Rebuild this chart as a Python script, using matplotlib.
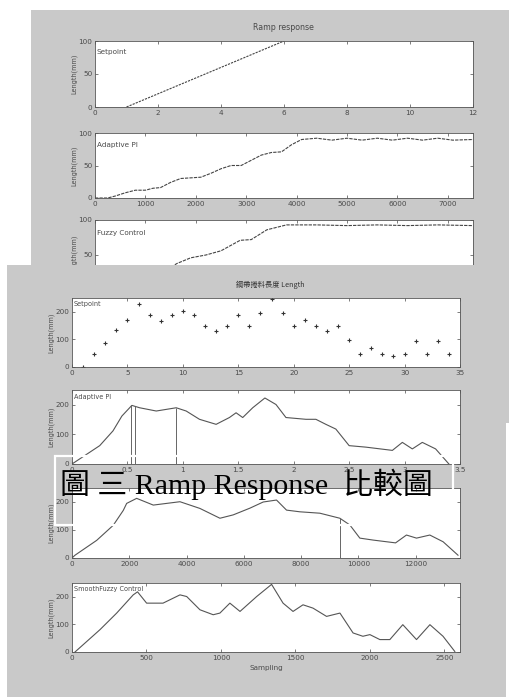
import numpy as np
import matplotlib
matplotlib.use('Agg')
import matplotlib.pyplot as plt
from matplotlib.patches import Rectangle

# ---- data ----
# top figure: ramp response
sp_t = [1, 6]
sp_y = [0, 100]

api_t = [0, 250, 400, 600, 800, 1000, 1150, 1300, 1500, 1700, 1900, 2100, 2300, 2500,
         2700, 2900, 3100, 3300, 3500, 3700, 3900, 4100, 4400, 4700, 5000, 5300, 5600,
         5900, 6200, 6500, 6800, 7100, 7500]
api_y = [0, 0, 3, 8, 12, 12, 15, 16, 24, 30, 31, 32, 38, 45, 50, 50, 58, 66, 70, 71,
         82, 90, 92, 89, 92, 89, 92, 89, 92, 89, 92, 89, 90]

fz_t = [0, 1200, 1630, 1900, 2200, 2500, 2880, 3100, 3410, 3800, 4400, 5000, 5600, 6200, 6800, 7500]
fz_y = [0, 20, 38, 46, 50, 56, 71, 72, 86, 93, 93, 92, 93, 92, 93, 92]

# bottom figure: length profile
pt_x = list(range(1, 35))
pt_y = [0, 46, 87, 133, 172, 227, 188, 166, 188, 204, 188, 149, 130, 148, 190, 149, 196,
        248, 196, 149, 170, 149, 130, 149, 97, 48, 69, 48, 39, 48, 95, 48, 95, 48]

pi_x = [0, 0.25, 0.37, 0.45, 0.54, 0.61, 0.76, 0.94, 1.03, 1.15, 1.30, 1.42, 1.48, 1.54,
        1.63, 1.74, 1.84, 1.93, 2.11, 2.20, 2.29, 2.38, 2.50, 2.65, 2.89, 2.98, 3.07,
        3.16, 3.28, 3.40]
pi_y = [0, 62, 112, 162, 198, 190, 179, 190, 179, 151, 134, 157, 173, 157, 190, 223,
        201, 157, 151, 151, 134, 118, 62, 57, 46, 73, 51, 73, 51, 0]
pi_vx = [0.53, 0.57, 0.94]
pi_vtop = [198, 196, 190]

c3_x = [0, 105, 862, 1442, 1791, 1909, 2258, 2838, 3770, 4468, 5166, 5630, 6213, 6678,
        7142, 7492, 7958, 8656, 9354, 9703, 10052, 10517, 11300, 11680, 12031, 12496,
        12960, 13480]
c3_y = [0, 10, 63, 117, 170, 195, 213, 189, 201, 177, 142, 154, 178, 200, 207, 171,
        165, 160, 142, 118, 71, 64, 54, 82, 71, 82, 58, 10]
c3_vx = 9354
c3_vtop = 142

sf_x = [20, 188, 300, 411, 440, 501, 611, 725, 770, 859, 948, 993, 1060, 1128, 1240,
        1340, 1417, 1484, 1551, 1618, 1709, 1799, 1887, 1953, 2000, 2067, 2134, 2221,
        2313, 2403, 2491, 2570]
sf_y = [0, 81, 141, 207, 218, 177, 177, 207, 201, 153, 135, 141, 177, 147, 201, 245,
        177, 147, 171, 159, 129, 141, 69, 57, 63, 45, 45, 99, 45, 99, 57, 2]

caption = '圖 三 Ramp Response  比較圖'

W, H = 509, 697
GREY = '#c9c9c9'
INK = '#4a4a4a'
FS = 5.2

fig = plt.figure(figsize=(W / 100, H / 100), dpi=100)
fig.patch.set_facecolor('white')


def px_axes(x0, y0, x1, y1, z):
    return fig.add_axes([x0 / W, 1 - y1 / H, (x1 - x0) / W, (y1 - y0) / H], zorder=z)


def style(ax, xlim, ylim, xticks, yticks, xlabels=None):
    ax.set_xlim(*xlim)
    ax.set_ylim(*ylim)
    ax.set_xticks(xticks)
    ax.set_yticks(yticks)
    if xlabels is not None:
        ax.set_xticklabels(xlabels)
    ax.tick_params(direction='in', top=True, right=True, length=2.5, width=0.5,
                   labelsize=FS, colors=INK, pad=2)
    for s in ax.spines.values():
        s.set_color('#555555')
        s.set_linewidth(0.6)
    ax.set_ylabel('Length(mm)', fontsize=FS - 0.5, color=INK, labelpad=1)


def rect(x0, y0, x1, y1, z, **kw):
    fig.patches.append(Rectangle((x0 / W, 1 - y1 / H), (x1 - x0) / W, (y1 - y0) / H,
                                 transform=fig.transFigure, zorder=z, **kw))


# top screenshot
rect(31, 10, 509, 265, 0.1, facecolor=GREY, edgecolor='none')
fig.text(283 / W, 1 - 27 / H, 'Ramp response', ha='center', va='center',
         fontsize=FS + 0.5, color=INK, zorder=0.5)

ax = px_axes(95, 41, 473, 107, 0.5)
ax.plot(sp_t, sp_y, color='#444444', lw=0.8, ls=(0, (2, 1)))
style(ax, (0, 12), (0, 100), range(0, 13, 2), [0, 50, 100])
ax.text(0.005, 0.8, 'Setpoint', transform=ax.transAxes, fontsize=FS, color=INK)

ax = px_axes(95, 133, 473, 198, 0.5)
ax.plot(api_t, api_y, color='#444444', lw=0.8, ls=(0, (3, 1)))
style(ax, (0, 7500), (0, 100), range(0, 8000, 1000), [0, 50, 100])
ax.text(0.005, 0.78, 'Adaptive PI', transform=ax.transAxes, fontsize=FS, color=INK)

ax = px_axes(95, 220, 473, 290, 0.5)
ax.plot(fz_t, fz_y, color='#444444', lw=0.8, ls=(0, (3, 1)))
style(ax, (0, 7500), (0, 100), range(0, 8000, 1000), [0, 50, 100])
ax.text(0.005, 0.78, 'Fuzzy Control', transform=ax.transAxes, fontsize=FS, color=INK)

# bottom screenshot
rect(7, 265, 509, 697, 1, facecolor=GREY, edgecolor='none')
rect(506, 423, 509, 697, 1.1, facecolor='white', edgecolor='none')
fig.text(270 / W, 1 - 285 / H, '鋼帶捲料長度 Length', ha='center', va='center',
         fontsize=FS, color='#333333', zorder=2,
         family=['Noto Sans CJK TC', 'DejaVu Sans'])

ax = px_axes(72, 298, 460, 367, 2)
ax.plot(pt_x, pt_y, '+', color='#333333', ms=3.5, mew=0.8)
style(ax, (0, 35), (0, 250), range(0, 36, 5), [0, 100, 200])
ax.text(0.005, 0.88, 'Setpoint', transform=ax.transAxes, fontsize=FS - 0.5, color=INK)

ax = px_axes(72, 390, 460, 464, 2)
ax.plot(pi_x, pi_y, color='#555555', lw=0.8)
ax.vlines(pi_vx, 0, pi_vtop, color='#666666', lw=0.7)
style(ax, (0, 3.5), (0, 250), np.arange(0, 3.6, 0.5), [0, 100, 200],
      ['0', '0.5', '1', '1.5', '2', '2.5', '3', '3.5'])
ax.text(0.005, 0.88, 'Adaptive PI', transform=ax.transAxes, fontsize=FS - 0.5, color=INK)

ax = px_axes(72, 488, 460, 558, 2)
ax.plot(c3_x, c3_y, color='#555555', lw=0.8)
ax.vlines(c3_vx, 0, c3_vtop, color='#666666', lw=0.7)
style(ax, (0, 13550), (0, 250), range(0, 13000, 2000), [0, 100, 200])

ax = px_axes(72, 583, 460, 652, 2)
ax.plot(sf_x, sf_y, color='#555555', lw=0.8)
style(ax, (0, 2605), (0, 250), range(0, 2600, 500), [0, 100, 200])
ax.text(0.005, 0.88, 'SmoothFuzzy Control', transform=ax.transAxes, fontsize=FS - 0.5,
        color=INK)
ax.set_xlabel('Sampling', fontsize=FS, color=INK, labelpad=3)

# caption overlay (sits on top of the screenshot, as in the scan)
rect(55, 456, 453, 525, 3, facecolor='none', edgecolor='white', lw=1.6)
fig.text(246 / W, 1 - 484 / H, caption, ha='center', va='center', fontsize=21.5,
         color='black', zorder=4, family=['Liberation Serif', 'Noto Sans CJK TC'])

fig.savefig('out.png', dpi=100, facecolor='white')
